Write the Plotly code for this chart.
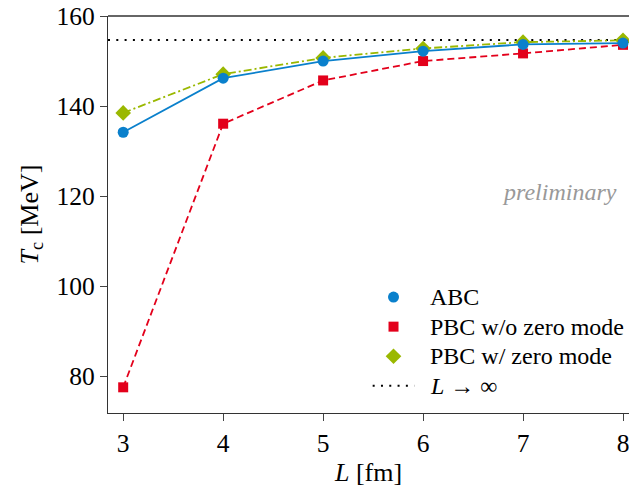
import plotly.graph_objects as go

# Box size L [fm]
L = [3, 4, 5, 6, 7, 8]

# Critical temperature T_c [MeV] for each boundary condition
tc_abc = [134.2, 146.2, 150.0, 152.2, 153.7, 154.0]
tc_pbc_no_zero = [77.6, 136.1, 145.7, 150.0, 151.7, 153.6]
tc_pbc_zero = [138.5, 147.1, 150.7, 152.8, 154.2, 154.6]

# Infinite-volume limit
tc_inf = 154.7

# Legend labels
labels = ["ABC", "PBC w/o zero mode", "PBC w/ zero mode", "<i>L</i> → ∞"]

BLUE = "#0a80cc"
RED = "#e3001b"
GREEN = "#9ab800"
SPINE = "#333333"
FONT = "'Liberation Serif', 'Times New Roman', serif"
FS = 24
FS_TICK = 25.5
FS_TITLE = 26

styles = [
    dict(symbol="circle", size=11, color=BLUE),
    dict(symbol="square", size=10, color=RED),
    dict(symbol="diamond", size=12, color=GREEN),
]

fig = go.Figure()

x_range = [2.848, 8.06]

# Infinite-volume reference line
fig.add_trace(go.Scatter(
    x=x_range, y=[tc_inf, tc_inf], mode="lines",
    line=dict(color="black", width=2, dash="2px,6.3px"),
    showlegend=False, hoverinfo="skip",
))

fig.add_trace(go.Scatter(
    x=L, y=tc_pbc_zero, mode="lines+markers",
    line=dict(color=GREEN, width=1.8, dash="8px,3px,2px,3px"),
    marker=styles[2], showlegend=False,
))
fig.add_trace(go.Scatter(
    x=L, y=tc_pbc_no_zero, mode="lines+markers",
    line=dict(color=RED, width=1.8, dash="7px,4px"),
    marker=styles[1], showlegend=False,
))
fig.add_trace(go.Scatter(
    x=L, y=tc_abc, mode="lines+markers",
    line=dict(color=BLUE, width=1.8),
    marker=styles[0], showlegend=False,
))

# Hand-placed legend on an overlay axis spanning the plot area (0..1 both ways)
leg_x_sym = 0.548     # symbol centre
leg_x_text = 0.615    # text left edge
leg_y0 = 0.292        # first row centre
leg_dy = 0.0745       # row spacing

for i, st in enumerate(styles):
    fig.add_trace(go.Scatter(
        x=[leg_x_sym], y=[leg_y0 - i * leg_dy], mode="markers",
        marker=st, xaxis="x2", yaxis="y2", showlegend=False, hoverinfo="skip",
    ))
y_inf_row = leg_y0 - 3 * leg_dy
fig.add_trace(go.Scatter(
    x=[leg_x_sym - 0.04, leg_x_sym + 0.04], y=[y_inf_row, y_inf_row], mode="lines",
    line=dict(color="black", width=2, dash="2px,6.3px"),
    xaxis="x2", yaxis="y2", showlegend=False, hoverinfo="skip",
))
for i, lab in enumerate(labels):
    fig.add_annotation(
        x=leg_x_text, y=leg_y0 - i * leg_dy, xref="x2", yref="y2",
        xanchor="left", yanchor="middle", text=lab, showarrow=False,
        font=dict(family=FONT, size=FS, color="black"),
    )

fig.add_annotation(
    x=0.981, y=120.9, xref="paper", yref="y", xanchor="right", yanchor="middle",
    text="<i>preliminary</i>", showarrow=False,
    font=dict(family=FONT, size=FS, color="#999999"),
)

# Top spine (no right spine)
fig.add_shape(type="line", xref="paper", yref="paper", x0=0, x1=1, y0=1, y1=1,
              line=dict(color=SPINE, width=1.3), layer="above")

hidden = dict(range=[0, 1], visible=False, showline=False, showgrid=False,
              zeroline=False, showticklabels=False, fixedrange=True)

fig.update_layout(
    width=629, height=489,
    margin=dict(l=108, r=0, t=16, b=76),
    plot_bgcolor="white", paper_bgcolor="white",
    font=dict(family=FONT, size=FS, color="black"),
    showlegend=False,
    xaxis=dict(
        range=x_range, tickvals=L, ticks="outside", ticklen=7, tickwidth=1,
        showline=True, linecolor=SPINE, linewidth=1.3, mirror=False,
        showgrid=False, zeroline=False, ticklabeloverflow="allow",
        title=dict(text="<i>L</i> [fm]", standoff=6, font=dict(family=FONT, size=FS_TITLE)),
        tickfont=dict(family=FONT, size=FS_TICK),
    ),
    yaxis=dict(
        range=[71.9, 160], tickvals=[80, 100, 120, 140, 160], ticks="outside",
        ticklen=7, tickwidth=1,
        showline=True, linecolor=SPINE, linewidth=1.3, mirror=False,
        showgrid=False, zeroline=False,
        title=dict(text="<i>T</i><sub>c</sub> [MeV]", standoff=10, font=dict(family=FONT, size=FS_TITLE)),
        tickfont=dict(family=FONT, size=FS_TICK),
    ),
    xaxis2=dict(overlaying="x", anchor="y2", **hidden),
    yaxis2=dict(overlaying="y", anchor="x2", **hidden),
)

fig.write_html("out.html")
